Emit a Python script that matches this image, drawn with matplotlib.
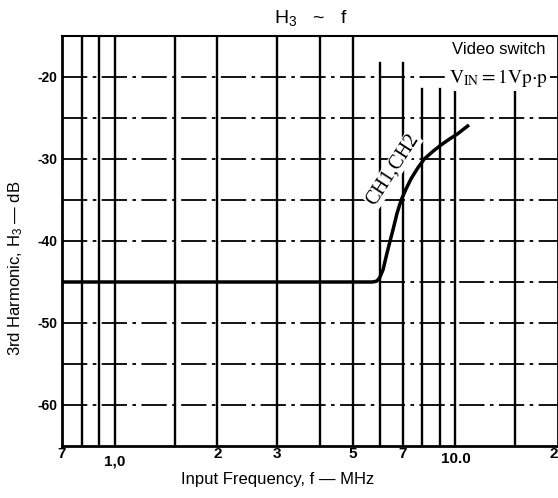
import matplotlib.pyplot as plt
from matplotlib.transforms import ScaledTranslation

plt.rcParams['font.family'] = ['Liberation Sans', 'DejaVu Sans']
plt.rcParams['mathtext.fontset'] = 'custom'
plt.rcParams['mathtext.rm'] = 'Liberation Sans'
plt.rcParams['mathtext.it'] = 'Liberation Sans:italic'

# curve CH1,CH2 (MHz, dB)
freq = [0.7, 1.0, 2.0, 3.0, 5.0, 5.7, 5.87, 5.99, 6.13, 6.26, 6.40, 6.55, 6.74, 6.93,
        7.17, 7.41, 7.75, 8.10, 8.57, 9.06, 9.58, 10.13, 10.96]
h3_db = [-45, -45, -45, -45, -45, -45, -44.9, -44.5, -43.5, -41.9, -40.3, -38.7, -36.6, -35.0,
         -33.6, -32.4, -31.1, -30.0, -29.1, -28.3, -27.6, -26.95, -25.85]

x_grid = [0.8, 0.9, 1.0, 1.5, 2, 3, 4, 5, 6, 7, 8, 9, 10, 15]
x_grid_top = [-15, -15, -15, -15, -15, -15, -15, -15, -18.3, -18.3, -21.5, -21.5, -21.5, -21.5]
y_grid = [-20, -25, -30, -35, -40, -45, -50, -55, -60]
x_ticks = [0.7, 1.0, 2, 3, 5, 7, 10, 20]
x_labels = ["7", "1,0", "2", "3", "5", "7", "10.0", "20"]
y_ticks = [-20, -30, -40, -50, -60]
y_labels = ["-20", "-30", "-40", "-50", "-60"]

fig = plt.figure(figsize=(5.58, 4.98), dpi=100)
ax = fig.add_axes([62 / 558, 52 / 498, 496 / 558, 410 / 498])
ax.set_xscale("log")
ax.set_xlim(0.705, 20)
ax.set_ylim(-65, -15)

for xv, top in zip(x_grid, x_grid_top):
    ax.plot([xv, xv], [-65, top], color="black", lw=1.7, zorder=1)
for yv in y_grid:
    ax.axhline(yv, color="black", lw=1.3, ls=(0, (14, 3, 2, 3)), zorder=1)

ax.plot(freq, h3_db, color="black", lw=2.5, zorder=3, solid_capstyle="butt")

ax.set_xticks(x_ticks, x_labels, fontsize=11, fontweight="bold")
ax.set_xticks([], minor=True)
ax.set_yticks(y_ticks, y_labels, fontsize=10, fontweight="bold")
ax.tick_params(length=0, pad=3)
ax.tick_params(axis="x", pad=1)
# a few labels sit lower in the original
for lab in ax.get_xticklabels():
    if lab.get_text() == "1,0":
        lab.set_transform(lab.get_transform() + ScaledTranslation(0, -0.07, fig.dpi_scale_trans))
    if lab.get_text() == "10.0":
        lab.set_transform(lab.get_transform() + ScaledTranslation(0, -0.05, fig.dpi_scale_trans))
for sp in ax.spines.values():
    sp.set_linewidth(2)
ax.spines["top"].set_linewidth(1.5)

ax.text(6.55, -31.3, "CH1,CH2", family="Liberation Serif", fontsize=14.5,
        rotation=57, ha="center", va="center", zorder=2,
        bbox=dict(facecolor="white", edgecolor="none", pad=0.3))

fig.text(545 / 558, 1 - 50 / 498, "Video switch", fontsize=12, ha="right", va="center",
         bbox=dict(facecolor="white", edgecolor="none", pad=1.5), zorder=5)
fig.text(548 / 558, 1 - 78 / 498, r"$\mathrm{V_{IN}=1Vp{\cdot}p}$", fontsize=14,
         math_fontfamily="stix", ha="right", va="center",
         bbox=dict(facecolor="white", edgecolor="none", pad=1.5), zorder=5)

fig.text(311 / 558, 1 - 18 / 498, r"H$_3$   ~   f", fontsize=14, ha="center", va="center")
fig.text(16 / 558, 1 - 268 / 498, r"3rd Harmonic, H$_3$ — dB", fontsize=12,
         rotation=90, ha="center", va="center")
fig.text(278 / 558, 1 - 479 / 498, "Input Frequency, f — MHz", fontsize=12,
         ha="center", va="center")

fig.savefig("out.png", dpi=100)
